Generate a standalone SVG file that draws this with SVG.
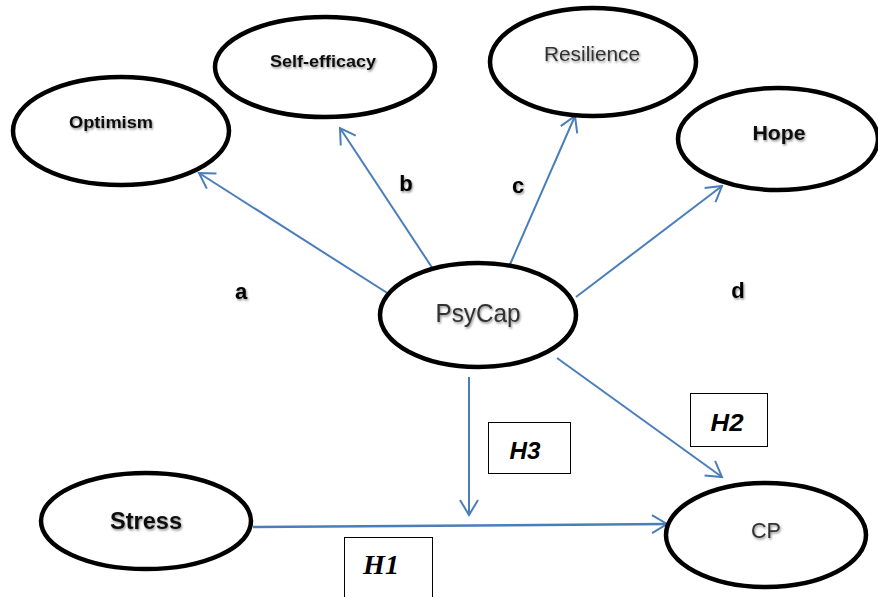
<svg xmlns="http://www.w3.org/2000/svg" width="878" height="597" viewBox="0 0 878 597">
<style>
.node ellipse{fill:#fff;stroke:#000;stroke-width:4.5}
.nt{font-family:"Liberation Sans",Arial,sans-serif;text-anchor:middle;dominant-baseline:central;fill:#111;filter:url(#sh)}
.lbl{font-family:"Liberation Sans",Arial,sans-serif;font-weight:bold;font-size:22px;text-anchor:middle;dominant-baseline:central;fill:#000;filter:url(#sh)}
.box rect{fill:#fff;stroke:#000;stroke-width:1}
.ht{font-family:"Liberation Sans",Arial,sans-serif;font-weight:bold;font-style:italic;font-size:23px;text-anchor:middle;dominant-baseline:central;fill:#000}
.conn line{stroke:#4a7ebb;stroke-width:2;fill:none;marker-end:url(#ah)}
</style>
<defs>
<filter id="sh" x="-20%" y="-30%" width="140%" height="160%">
<feDropShadow dx="1" dy="1.5" stdDeviation="0.8" flood-color="#000" flood-opacity="0.45"/>
</filter>
<marker id="ah" viewBox="0 0 22 22" refX="20" refY="11" markerWidth="22" markerHeight="22" markerUnits="userSpaceOnUse" orient="auto">
<path d="M5,2 L20,11 L5,20" fill="none" stroke="#4a7ebb" stroke-width="2"/>
</marker>
</defs>
<g id="connectors" class="conn">
<line x1="392" y1="296" x2="199" y2="173"/>
<line x1="433" y1="269" x2="340" y2="128"/>
<line x1="508" y1="269" x2="575" y2="116"/>
<line x1="576" y1="297" x2="722" y2="186"/>
<line x1="557" y1="358" x2="722" y2="477"/>
<line x1="469" y1="377" x2="469" y2="515"/>
<line x1="253" y1="527" x2="667" y2="524" style="stroke-width:2.5"/>
</g>
<g id="optimism" class="node"><ellipse cx="121" cy="131" rx="108" ry="54"/><text class="nt" x="111" y="122" font-size="17" font-weight="bold" textLength="84" lengthAdjust="spacingAndGlyphs">Optimism</text></g>
<g id="self-efficacy" class="node"><ellipse cx="325" cy="67" rx="110" ry="50"/><text class="nt" x="323" y="61" font-size="17" font-weight="bold" textLength="106" lengthAdjust="spacingAndGlyphs">Self-efficacy</text></g>
<g id="resilience" class="node"><ellipse cx="593" cy="62" rx="103" ry="54"/><text class="nt" x="592" y="54" font-size="20" textLength="96" lengthAdjust="spacingAndGlyphs" style="fill:#333">Resilience</text></g>
<g id="hope" class="node"><ellipse cx="778" cy="139" rx="100" ry="51"/><text class="nt" x="779" y="133" font-size="20" font-weight="bold" textLength="53" lengthAdjust="spacingAndGlyphs">Hope</text></g>
<g id="psycap" class="node"><ellipse cx="478" cy="315" rx="98" ry="52"/><text class="nt" x="478" y="313" font-size="26" textLength="85" lengthAdjust="spacingAndGlyphs" style="fill:#333">PsyCap</text></g>
<g id="stress" class="node"><ellipse cx="146" cy="521" rx="105" ry="48"/><text class="nt" x="146" y="521" font-size="23" font-weight="bold" textLength="72" lengthAdjust="spacingAndGlyphs">Stress</text></g>
<g id="cp" class="node"><ellipse cx="766" cy="535" rx="100" ry="52"/><text class="nt" x="766" y="530" font-size="22" textLength="30" lengthAdjust="spacingAndGlyphs" style="fill:#333">CP</text></g>
<g id="labels">
<text class="lbl" x="241" y="291">a</text>
<text class="lbl" x="406" y="183">b</text>
<text class="lbl" x="518" y="185">c</text>
<text class="lbl" x="738" y="290">d</text>
</g>
<g id="h3" class="box"><rect x="488.5" y="422.5" width="82" height="51"/><text class="ht" x="525" y="451" textLength="31" lengthAdjust="spacingAndGlyphs">H3</text></g>
<g id="h2" class="box"><rect x="690.5" y="393.5" width="77" height="53"/><text class="ht" x="727" y="423" textLength="33" lengthAdjust="spacingAndGlyphs">H2</text></g>
<g id="h1" class="box"><rect x="344.5" y="537.5" width="88" height="70"/><text class="ht" x="381" y="565" textLength="36" lengthAdjust="spacingAndGlyphs" style="font-family:'Liberation Serif',serif;font-size:27px">H1</text></g>
</svg>
